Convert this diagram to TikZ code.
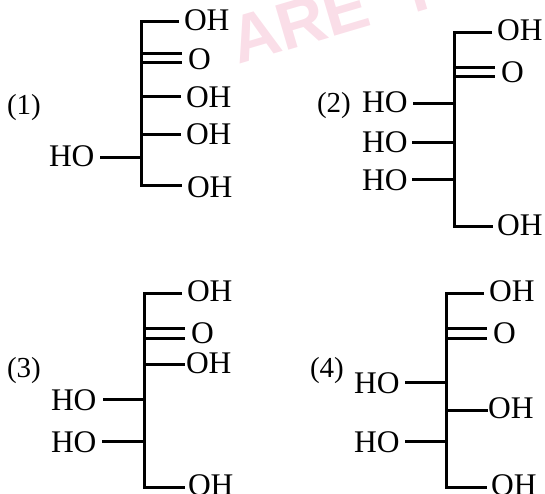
\documentclass[tikz,border=0pt]{standalone}
\usepackage{fontspec}
\setmainfont{Liberation Serif}
\setsansfont{Liberation Sans}
\definecolor{wm}{RGB}{250,222,232}
\tikzset{
  lab/.style={inner sep=0pt,outer sep=0pt,anchor=base west,font=\fontsize{31.5}{32}\selectfont,text=black},
  num/.style={lab,font=\fontsize{29}{29}\selectfont},
  bond/.style={line width=3pt,black},
  wmark/.style={inner sep=0pt,anchor=base west,rotate=16.5,text=wm,font=\fontsize{67}{67}\selectfont\sffamily\bfseries}
}
\begin{document}
\begin{tikzpicture}[x=1pt,y=-1pt]
\useasboundingbox (0,0) rectangle (545,494);
\clip (0,0) rectangle (545,494);
\node[wmark] (wma) at (238,65) {ARE};
\node[wmark] (wmt) at (403,17) {T};
% Panel 1
\node[num] (n1) at (7,115) {(1)};
\node[lab] (a1) at (184,31) {OH};
\node[lab] (a2) at (188,70) {O};
\node[lab] (a3) at (186,108) {OH};
\node[lab] (a4) at (186,145) {OH};
\node[lab] (a5) at (187,197) {OH};
\node[lab] (a6) at (49,167) {HO};
\coordinate (at) at (141,22); \coordinate (ab) at (141,186);
\draw[bond] (179,22) -- (at) -- (ab) -- (182,186);
\draw[bond] (141,54) -- (182,54) (141,63) -- (182,63);
\draw[bond] (141,97) -- (181,97) (141,135) -- (181,135);
\draw[bond] (100,158) -- (141,158);
% Panel 2
\node[num] (n2) at (317,113) {(2)};
\node[lab] (b1) at (497,41) {OH};
\node[lab] (b2) at (501,83) {O};
\node[lab] (b3) at (362,113) {HO};
\node[lab] (b4) at (362,153) {HO};
\node[lab] (b5) at (362,190) {HO};
\node[lab] (b6) at (497,235) {OH};
\draw[bond] (492,33) -- (454,33) -- (454,226) -- (493,226);
\draw[bond] (454,68) -- (495,68) (454,77) -- (495,77);
\draw[bond] (413,104) -- (454,104) (412,143) -- (454,143) (412,180) -- (454,180);
% Panel 3
\node[num] (n3) at (7,377) {(3)};
\node[lab] (c1) at (187,301) {OH};
\node[lab] (c2) at (191,343) {O};
\node[lab] (c3) at (186,373) {OH};
\node[lab] (c4) at (51,410) {HO};
\node[lab] (c5) at (51,452) {HO};
\node[lab] (c6) at (188,495) {OH};
\draw[bond] (182,293) -- (144,293) -- (144,487) -- (185,487);
\draw[bond] (144,328) -- (185,328) (144,338) -- (185,338);
\draw[bond] (144,364) -- (185,364);
\draw[bond] (103,399) -- (144,399) (102,441) -- (144,441);
% Panel 4
\node[num] (n4) at (310,377) {(4)};
\node[lab] (d1) at (489,301) {OH};
\node[lab] (d2) at (493,343) {O};
\node[lab] (d3) at (354,393) {HO};
\node[lab] (d4) at (488,418) {OH};
\node[lab] (d5) at (354,452) {HO};
\node[lab] (d6) at (491,495) {OH};
\draw[bond] (484,293) -- (446,293) -- (446,487) -- (487,487);
\draw[bond] (446,328) -- (487,328) (446,338) -- (487,338);
\draw[bond] (405,382) -- (446,382) (446,410) -- (488,410) (405,441) -- (446,441);
\end{tikzpicture}
\end{document}
